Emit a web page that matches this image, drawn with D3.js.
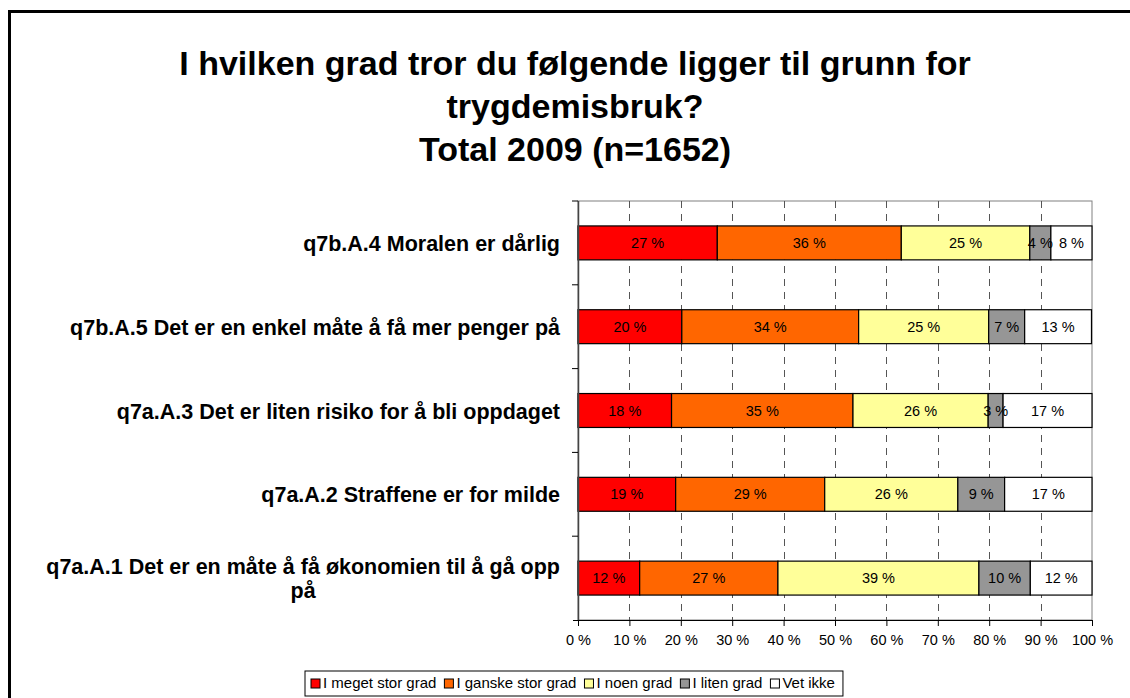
<!DOCTYPE html>
<html>
<head>
<meta charset="utf-8">
<script src="https://cdn.jsdelivr.net/npm/d3@7"></script>
<style>
body { margin: 0; background: #fff; }
text { font-family: "Liberation Sans", Arial, sans-serif; }
</style>
</head>
<body>
<div id="chart"></div>
<script>
// data (percent of respondents)
var categories = [
  "q7b.A.4 Moralen er dårlig",
  "q7b.A.5 Det er en enkel måte å få mer penger på",
  "q7a.A.3 Det er liten risiko for å bli oppdaget",
  "q7a.A.2 Straffene er for milde",
  "q7a.A.1 Det er en måte å få økonomien til å gå opp|på"
];
var series = ["I meget stor grad", "I ganske stor grad", "I noen grad", "I liten grad", "Vet ikke"];
var colors = ["#ff0000", "#ff6600", "#ffff99", "#969696", "#ffffff"];
var meget  = [27.1, 20.2, 18.2, 19.0, 12.0];
var ganske = [35.8, 34.4, 35.3, 29.0, 26.9];
var noen   = [25.0, 25.3, 26.3, 25.9, 39.1];
var liten  = [4.1, 7.0, 2.9, 9.1, 10.0];
var vetIkke = [8.0, 13.0, 17.3, 17.0, 12.0];
var ticks = [0, 10, 20, 30, 40, 50, 60, 70, 80, 90, 100];
var titleLines = ["I hvilken grad tror du følgende ligger til grunn for", "trygdemisbruk?", "Total 2009 (n=1652)"];

var width = 1130, height = 698;
var plotLeft = 578, plotRight = 1092, plotTop = 201, plotBottom = 620;

var svg = d3.select("#chart").append("svg")
  .attr("width", width)
  .attr("height", height);

// outer chart border
svg.append("rect")
  .attr("x", 9.5).attr("y", 11.5)
  .attr("width", 1200).attr("height", 800)
  .attr("fill", "#fff")
  .attr("stroke", "#000")
  .attr("stroke-width", 3);

// title
svg.append("g").selectAll("text")
  .data(titleLines)
  .enter().append("text")
  .attr("x", 575)
  .attr("y", function(d, i) { return 75 + i * 43; })
  .attr("text-anchor", "middle")
  .style("font-size", "34px")
  .style("font-weight", "bold")
  .text(function(d) { return d; });

var x = d3.scaleLinear().domain([0, 100]).range([plotLeft, plotRight]);
var y = d3.scaleBand().domain(d3.range(categories.length)).range([plotTop, plotBottom]).paddingInner(0.595).paddingOuter(0.2975);

// plot area border
svg.append("rect")
  .attr("x", plotLeft).attr("y", plotTop)
  .attr("width", plotRight - plotLeft).attr("height", plotBottom - plotTop)
  .attr("fill", "#fff")
  .attr("stroke", "#808080")
  .attr("stroke-width", 1);

// dashed gridlines
svg.append("g").selectAll("line")
  .data(ticks.slice(1, -1))
  .enter().append("line")
  .attr("x1", function(d) { return Math.round(x(d)) + 0.5; })
  .attr("x2", function(d) { return Math.round(x(d)) + 0.5; })
  .attr("y1", plotTop)
  .attr("y2", plotBottom)
  .attr("stroke", "#555")
  .attr("stroke-width", 1)
  .attr("stroke-dasharray", "7,6");

// stacked bars
var rows = categories.map(function(c, i) {
  return [meget[i], ganske[i], noen[i], liten[i], vetIkke[i]];
});
var stack = [];
rows.forEach(function(r, i) {
  var acc = 0;
  r.forEach(function(v, j) {
    stack.push({ row: i, s: j, x0: acc, x1: acc + v, v: v });
    acc += v;
  });
});

var bars = svg.append("g");
bars.selectAll("rect")
  .data(stack)
  .enter().append("rect")
  .attr("x", function(d) { return x(d.x0); })
  .attr("y", function(d) { return y(d.row); })
  .attr("width", function(d) { return x(d.x1) - x(d.x0); })
  .attr("height", y.bandwidth())
  .attr("fill", function(d) { return colors[d.s]; })
  .attr("stroke", "#000")
  .attr("stroke-width", 1.2);

bars.selectAll("text")
  .data(stack)
  .enter().append("text")
  .attr("x", function(d) { return (x(d.x0) + x(d.x1)) / 2; })
  .attr("y", function(d) { return y(d.row) + y.bandwidth() / 2 + 5; })
  .attr("text-anchor", "middle")
  .style("font-size", "14.5px")
  .style("fill", "#000")
  .text(function(d) { return Math.round(d.v) + " %"; });

// left axis
svg.append("line")
  .attr("x1", plotLeft + 0.5).attr("x2", plotLeft + 0.5)
  .attr("y1", plotTop).attr("y2", plotBottom)
  .attr("stroke", "#444").attr("stroke-width", 1.5);
svg.append("g").selectAll("line")
  .data(d3.range(categories.length))
  .enter().append("line")
  .attr("x1", plotLeft - 6).attr("x2", plotLeft)
  .attr("y1", function(d) { return plotTop + d * (plotBottom - plotTop) / categories.length; })
  .attr("y2", function(d) { return plotTop + d * (plotBottom - plotTop) / categories.length; })
  .attr("stroke", "#000");

// category labels
svg.append("g").selectAll("text")
  .data(categories)
  .enter().append("text")
  .each(function(d, i) {
    var parts = d.split("|");
    var t = d3.select(this)
      .style("font-size", "21.5px")
      .style("font-weight", "bold");
    var cy = y(i) + y.bandwidth() / 2;
    if (parts.length == 1) {
      t.attr("x", 560).attr("y", cy + 8).attr("text-anchor", "end").text(d);
    } else {
      t.attr("text-anchor", "middle");
      var tmp = t.append("tspan").text(parts[0]);
      var w = tmp.node().getComputedTextLength();
      tmp.remove();
      parts.forEach(function(p, k) {
        t.append("tspan")
          .attr("x", 560 - w / 2)
          .attr("y", cy - 4 + k * 24)
          .text(p);
      });
    }
  });

// bottom axis
var xAxis = d3.axisBottom(x)
  .tickValues(ticks)
  .tickSize(6)
  .tickFormat(function(d) { return d + " %"; });
var ax = svg.append("g")
  .attr("transform", "translate(0," + plotBottom + ")")
  .call(xAxis);
ax.select(".domain").attr("stroke", "#000").attr("d", "M" + (plotLeft - 5) + ",0.5H" + plotRight);
ax.selectAll(".tick line").attr("stroke", "#000");
ax.selectAll(".tick text")
  .attr("y", 15)
  .style("font-size", "14.5px")
  .style("font-family", "Liberation Sans, Arial, sans-serif")
  .attr("fill", "#000");

// legend
var legend = svg.append("g");
var lx = 311, ly = 683;
var legendBox = legend.append("rect")
  .attr("y", 671).attr("height", 25)
  .attr("fill", "#fff")
  .attr("stroke", "#000");
var items = legend.selectAll("g")
  .data(series)
  .enter().append("g");
items.each(function(d, i) {
  var g = d3.select(this);
  g.append("rect")
    .attr("x", lx).attr("y", ly - 4)
    .attr("width", 9).attr("height", 9)
    .attr("fill", colors[i])
    .attr("stroke", "#000");
  var t = g.append("text")
    .attr("x", lx + 12).attr("y", ly + 5)
    .style("font-size", "15px")
    .text(d);
  lx += 12 + t.node().getComputedTextLength() + 8;
});
legendBox.attr("x", 305).attr("width", lx - 305);
</script>
</body>
</html>
